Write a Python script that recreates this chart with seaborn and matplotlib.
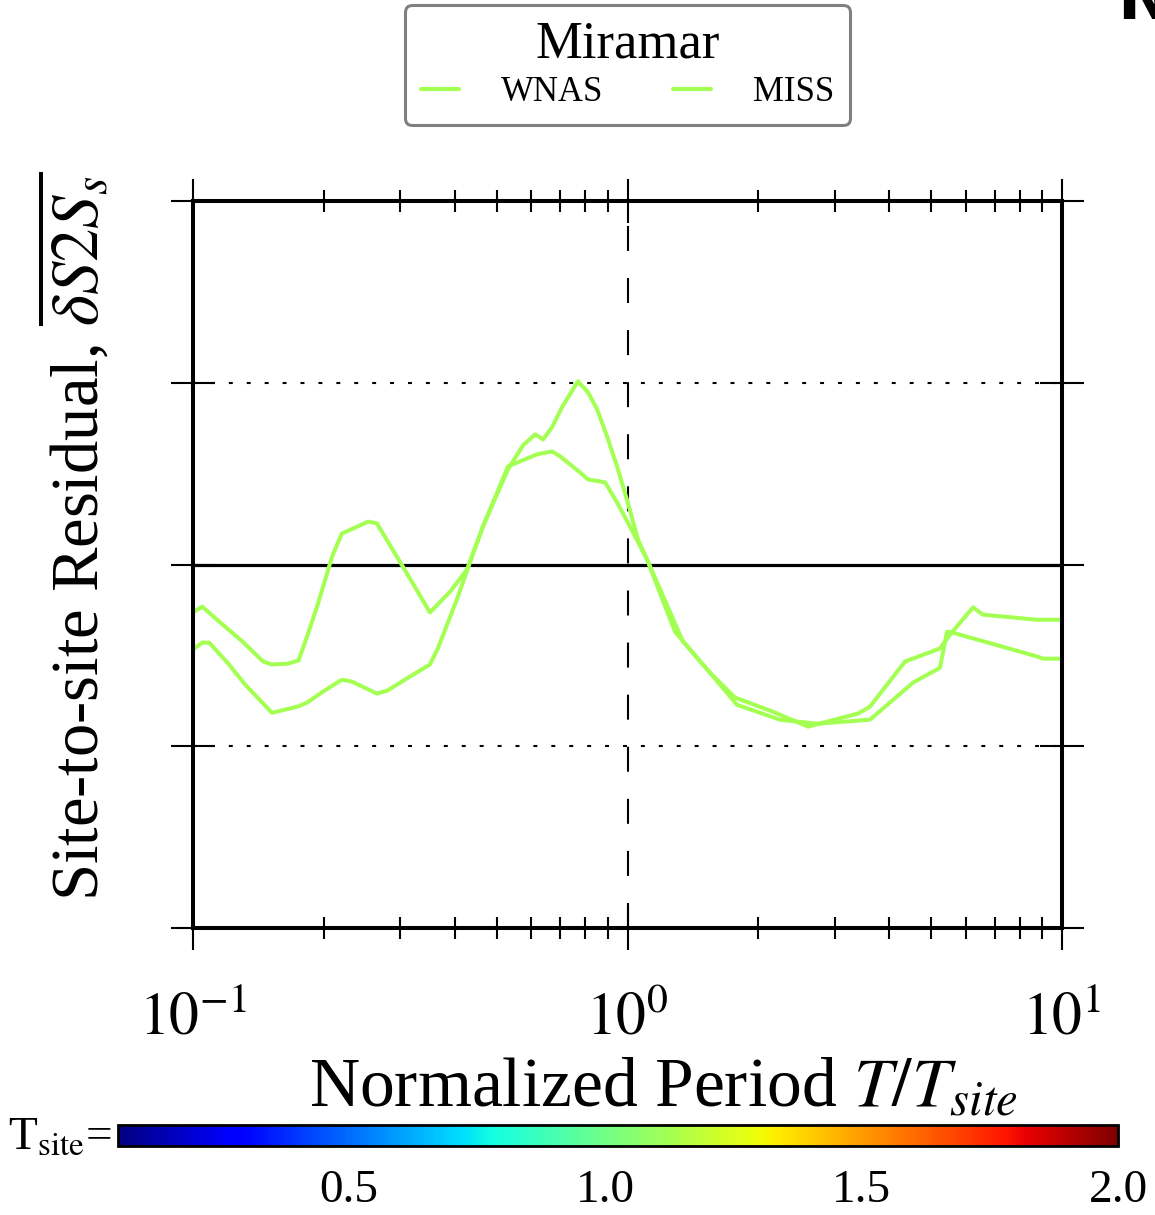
import numpy as np
import pandas as pd
import matplotlib
matplotlib.use("Agg")
import matplotlib.pyplot as plt
import seaborn as sns
from matplotlib.colors import Normalize
from matplotlib.cm import ScalarMappable
from matplotlib.ticker import FixedLocator, FixedFormatter, NullLocator, LogLocator

# ---------------- data ----------------
site_name = "Miramar"
t_site = 1.12
series_names = ["WNAS", "MISS"]

wnas_period = [0.100, 0.105, 0.117, 0.130, 0.145, 0.152, 0.165, 0.175, 0.183, 0.193,
               0.209, 0.220, 0.253, 0.265, 0.300, 0.337, 0.351, 0.391, 0.427, 0.465,
               0.531, 0.619, 0.670, 0.699, 0.778, 0.811, 0.888, 0.946, 1.030, 1.109,
               1.286, 1.549, 1.767, 2.162, 2.603, 3.393, 3.614, 4.352, 5.239, 5.524,
               6.239, 6.577, 8.760, 10.0]
wnas_resid = [-0.132, -0.116, -0.165, -0.212, -0.267, -0.275, -0.273, -0.264, -0.198, -0.116,
              0.022, 0.085, 0.118, 0.113, 0.006, -0.096, -0.132, -0.074, -0.014, 0.105,
              0.270, 0.303, 0.311, 0.298, 0.253, 0.234, 0.226, 0.171, 0.088, 0.014,
              -0.185, -0.298, -0.366, -0.405, -0.446, -0.410, -0.391, -0.267, -0.231, -0.193,
              -0.118, -0.138, -0.152, -0.152]

miss_period = [0.100, 0.105, 0.109, 0.120, 0.132, 0.152, 0.174, 0.183, 0.199, 0.220,
               0.232, 0.265, 0.280, 0.313, 0.351, 0.366, 0.405, 0.434, 0.465, 0.531,
               0.575, 0.613, 0.639, 0.670, 0.707, 0.769, 0.811, 0.851, 0.897, 0.946,
               0.997, 1.057, 1.109, 1.342, 1.549, 1.786, 2.244, 2.730, 3.614, 4.541,
               5.239, 5.437, 5.583, 8.760, 9.043, 10.0]
miss_resid = [-0.234, -0.215, -0.215, -0.270, -0.331, -0.408, -0.391, -0.380, -0.350, -0.317,
              -0.322, -0.355, -0.347, -0.311, -0.275, -0.231, -0.096, 0.006, 0.105, 0.262,
              0.328, 0.358, 0.344, 0.377, 0.433, 0.504, 0.474, 0.427, 0.353, 0.270,
              0.179, 0.069, 0.014, -0.212, -0.298, -0.386, -0.427, -0.438, -0.427, -0.325,
              -0.284, -0.185, -0.187, -0.253, -0.259, -0.259]

y_ticks = [-1.0, -0.5, 0.0, 0.5, 1.0]
x_ticks = [0.1, 1.0, 10.0]
x_ticklabels = [r"$10^{-1}$", r"$10^{0}$", r"$10^{1}$"]
cbar_ticks = [0.5, 1.0, 1.5, 2.0]
cbar_ticklabels = ["0.5", "1.0", "1.5", "2.0"]
tsite_min, tsite_max = 0.05, 2.0

# ---------------- style ----------------
sns.set_theme(style="white")
plt.rcParams["font.family"] = ["Liberation Serif", "DejaVu Serif"]
plt.rcParams["mathtext.fontset"] = "stix"
plt.rcParams["text.color"] = "black"
plt.rcParams["axes.labelcolor"] = "black"
plt.rcParams["xtick.color"] = "black"
plt.rcParams["ytick.color"] = "black"

W, H = 1155, 1215
fig = plt.figure(figsize=(W / 100, H / 100), dpi=100)
fig.patch.set_facecolor("white")

ax = fig.add_axes([193 / W, 1 - 928 / H, 869 / W, 727 / H])
ax.set_facecolor("white")

norm = Normalize(vmin=tsite_min, vmax=tsite_max)
cmap = plt.get_cmap("jet")
line_color = cmap(norm(t_site))

df = pd.concat([
    pd.DataFrame({"period": wnas_period, "resid": wnas_resid, "model": series_names[0]}),
    pd.DataFrame({"period": miss_period, "resid": miss_resid, "model": series_names[1]}),
], ignore_index=True)

sns.lineplot(data=df, x="period", y="resid", hue="model", hue_order=series_names,
             palette=[line_color, line_color], estimator=None, sort=False,
             linewidth=2.9, ax=ax, zorder=5)
handles, labels = ax.get_legend_handles_labels()
if ax.get_legend() is not None:
    ax.get_legend().remove()

# reference lines
ax.axhline(0, color="black", lw=2.3, zorder=2)
for yv in (-0.5, 0.5):
    ax.axhline(yv, color="black", lw=1.5, ls=(0, (1.9, 6.7)), zorder=2)
ax.axvline(1.0, color="black", lw=1.5, ls=(0, (12, 13)), zorder=2)

ax.set_xscale("log")
ax.set_xlim(0.1, 10)
ax.set_ylim(-1, 1)
ax.xaxis.set_major_locator(FixedLocator(x_ticks))
ax.xaxis.set_major_formatter(FixedFormatter(x_ticklabels))
ax.xaxis.set_minor_locator(LogLocator(base=10, subs=np.arange(2, 10)))
ax.yaxis.set_major_locator(FixedLocator(y_ticks))
ax.yaxis.set_minor_locator(NullLocator())
ax.set_yticklabels([])

for s in ax.spines.values():
    s.set_visible(True)
    s.set_color("black")
    s.set_linewidth(2.9)
    s.set_zorder(6)

ax.tick_params(axis="both", which="major", direction="inout", length=31.7, width=1.5,
               colors="black", bottom=True, top=True, left=True, right=True)
ax.tick_params(axis="x", which="minor", direction="inout", length=15.8, width=1.5,
               colors="black", bottom=True, top=True)
ax.tick_params(axis="x", which="major", labelsize=43, pad=30)

ax.set_xlabel(r"Normalized Period $T/T_{site}$", fontsize=50, color="black")
ax.xaxis.set_label_coords(0.541, -0.178)
ax.set_ylabel(r"Site-to-site Residual, $\overline{\delta S2S_s}$", fontsize=48, color="black")
ax.yaxis.set_label_coords(-0.093, 0.538)

# legend
leg = ax.legend(handles, labels, title=site_name, ncol=2, loc="upper center",
                bbox_to_anchor=(0.5, 1 + 213 / 727), fontsize=25, title_fontsize=38,
                handlelength=1.1, handletextpad=1.2, columnspacing=2.0,
                frameon=True, fancybox=True, framealpha=1, edgecolor="#808080",
                borderpad=0.45, labelspacing=0.2)
leg.get_frame().set_linewidth(2.2)
leg.get_title().set_color("black")
for t in leg.get_texts():
    t.set_color("black")
for lh in leg.get_lines():
    lh.set_linewidth(3.0)

# colorbar
cax = fig.add_axes([118 / W, 1 - 1146 / H, 1000 / W, 21 / H])
cb = fig.colorbar(ScalarMappable(norm=norm, cmap=cmap), cax=cax, orientation="horizontal")
cb.set_ticks(cbar_ticks)
cb.set_ticklabels(cbar_ticklabels)
cb.outline.set_linewidth(2.0)
cb.outline.set_edgecolor("black")
cax.tick_params(axis="x", direction="in", length=5.8, width=1.0, colors="black",
                labelsize=34, pad=17, bottom=True, top=False)

fig.text(8 / W, 1 - 1150 / H, r"T$_{\mathrm{site}}$=", fontsize=34, color="black",
         ha="left", va="baseline")

# clipped neighbouring panel letter
fig.text(1117 / W, 1 - 19 / H, "N", fontsize=46, fontweight="bold",
         family="DejaVu Sans", color="black", ha="left", va="baseline")

fig.savefig("out.png", dpi=100, facecolor="white")
